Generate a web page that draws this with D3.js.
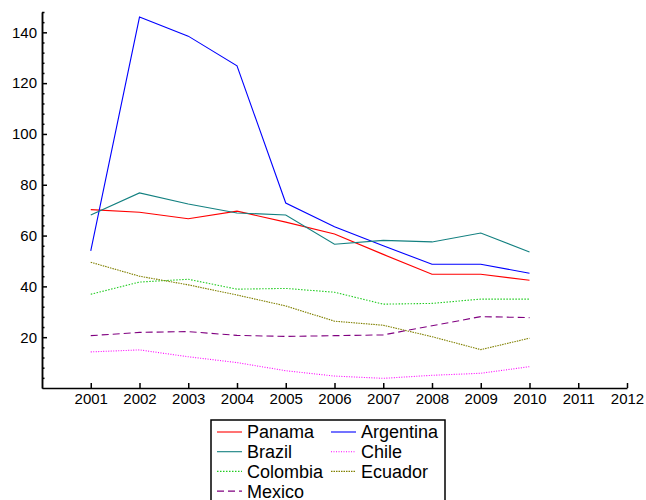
<!DOCTYPE html>
<html>
<head>
<meta charset="utf-8">
<script src="https://cdn.jsdelivr.net/npm/d3@7"></script>
<style>
  body { margin: 0; background: #fff; }
  svg { display: block; font-family: "Liberation Sans", Arial, Helvetica, sans-serif; }
  .axis path, .axis line { stroke: #000; stroke-width: 1.5; }
  .axis text { font-size: 15px; fill: #000; }
</style>
</head>
<body>
<svg id="chart"></svg>
<script>
'use strict';

var years = [2001, 2002, 2003, 2004, 2005, 2006, 2007, 2008, 2009, 2010];
var xTicks = [2001, 2002, 2003, 2004, 2005, 2006, 2007, 2008, 2009, 2010, 2011, 2012];
var yTicks = [20, 40, 60, 80, 100, 120, 140];

var panama    = [70.2, 69.2, 66.6, 69.6, 65.3, 60.6, 52.6, 44.8, 44.8, 42.4];
var argentina = [54.0, 146.0, 138.5, 126.8, 72.8, 63.5, 56.0, 48.7, 48.7, 45.2];
var brazil    = [68.1, 76.8, 72.4, 68.9, 68.1, 56.6, 58.1, 57.5, 61.0, 53.5];
var chile     = [14.2, 15.0, 12.3, 10.0, 6.8, 4.7, 3.8, 5.0, 5.8, 8.4];
var colombia  = [36.9, 41.7, 42.8, 38.9, 39.2, 37.7, 33.0, 33.3, 35.0, 35.0];
var ecuador   = [49.5, 44.0, 40.6, 36.6, 32.3, 26.3, 24.7, 20.2, 15.1, 19.6];
var mexico    = [20.6, 21.9, 22.2, 20.7, 20.3, 20.6, 20.9, 24.5, 28.1, 27.7];

var series = [
    { name: "Panama",    values: panama,    color: "#ff0000", dash: null },
    { name: "Argentina", values: argentina, color: "#0000ff", dash: null },
    { name: "Brazil",    values: brazil,    color: "#138080", dash: null },
    { name: "Chile",     values: chile,     color: "#ff00ff", dash: "1,1.5" },
    { name: "Colombia",  values: colombia,  color: "#22cc22", dash: "1.5,1.5" },
    { name: "Ecuador",   values: ecuador,   color: "#808000", dash: "1.5,1" },
    { name: "Mexico",    values: mexico,    color: "#800080", dash: "7,4" }
];

var width = 646,
    height = 500;

var svg = d3.select("#chart")
            .attr("width", width)
            .attr("height", height);

var x = d3.scaleLinear().domain([2000, 2012]).range([42, 627]);
var y = d3.scaleLinear().domain([0, 148]).range([388, 12]);

// minor ticks every 4
var minor = d3.range(4, 149, 4).filter(function(v) { return v % 20 !== 0; });

svg.append("g")
    .attr("class", "axis")
    .attr("transform", "translate(" + x(2000) + ",0)")
    .call(d3.axisLeft(y).tickValues(minor).tickSize(-2.5).tickSizeOuter(0).tickFormat(""));

svg.append("g")
    .attr("class", "axis")
    .attr("transform", "translate(" + x(2000) + ",0)")
    .call(d3.axisLeft(y).tickValues(yTicks).tickSize(-5).tickSizeOuter(0).tickPadding(5));

svg.append("g")
    .attr("class", "axis")
    .attr("transform", "translate(0," + y(0) + ")")
    .call(d3.axisBottom(x).tickValues(xTicks).tickSize(-5).tickSizeOuter(0)
            .tickPadding(5).tickFormat(d3.format("d")));

var line = d3.line()
             .x(function(d, i) { return x(years[i]); })
             .y(function(d) { return y(d); });

svg.selectAll(".series")
        .data(series)
    .enter().append("path")
        .attr("class", "series")
        .attr("d", function(d) { return line(d.values); })
        .attr("fill", "none")
        .attr("stroke", function(d) { return d.color; })
        .attr("stroke-width", 1.1)
        .attr("stroke-dasharray", function(d) { return d.dash; });

// legend
var legend = svg.append("g").attr("transform", "translate(211,420)");

legend.append("rect")
    .attr("width", 234)
    .attr("height", 100)
    .attr("fill", "#fff")
    .attr("stroke", "#000")
    .attr("stroke-width", 1.5);

var item = legend.selectAll(".item")
        .data(series)
    .enter().append("g")
        .attr("class", "item")
        .attr("transform", function(d, i) {
            return "translate(" + (i % 2 ? 120 : 6) + "," + (12 + Math.floor(i / 2) * 19.7) + ")";
        });

item.append("line")
    .attr("x1", 0).attr("x2", 25)
    .attr("stroke", function(d) { return d.color; })
    .attr("stroke-width", 1.1)
    .attr("stroke-dasharray", function(d) { return d.dash; });

item.append("text")
    .attr("x", 30)
    .attr("dy", "0.36em")
    .style("font-size", "18px")
    .text(function(d) { return d.name; });
</script>
</body>
</html>
